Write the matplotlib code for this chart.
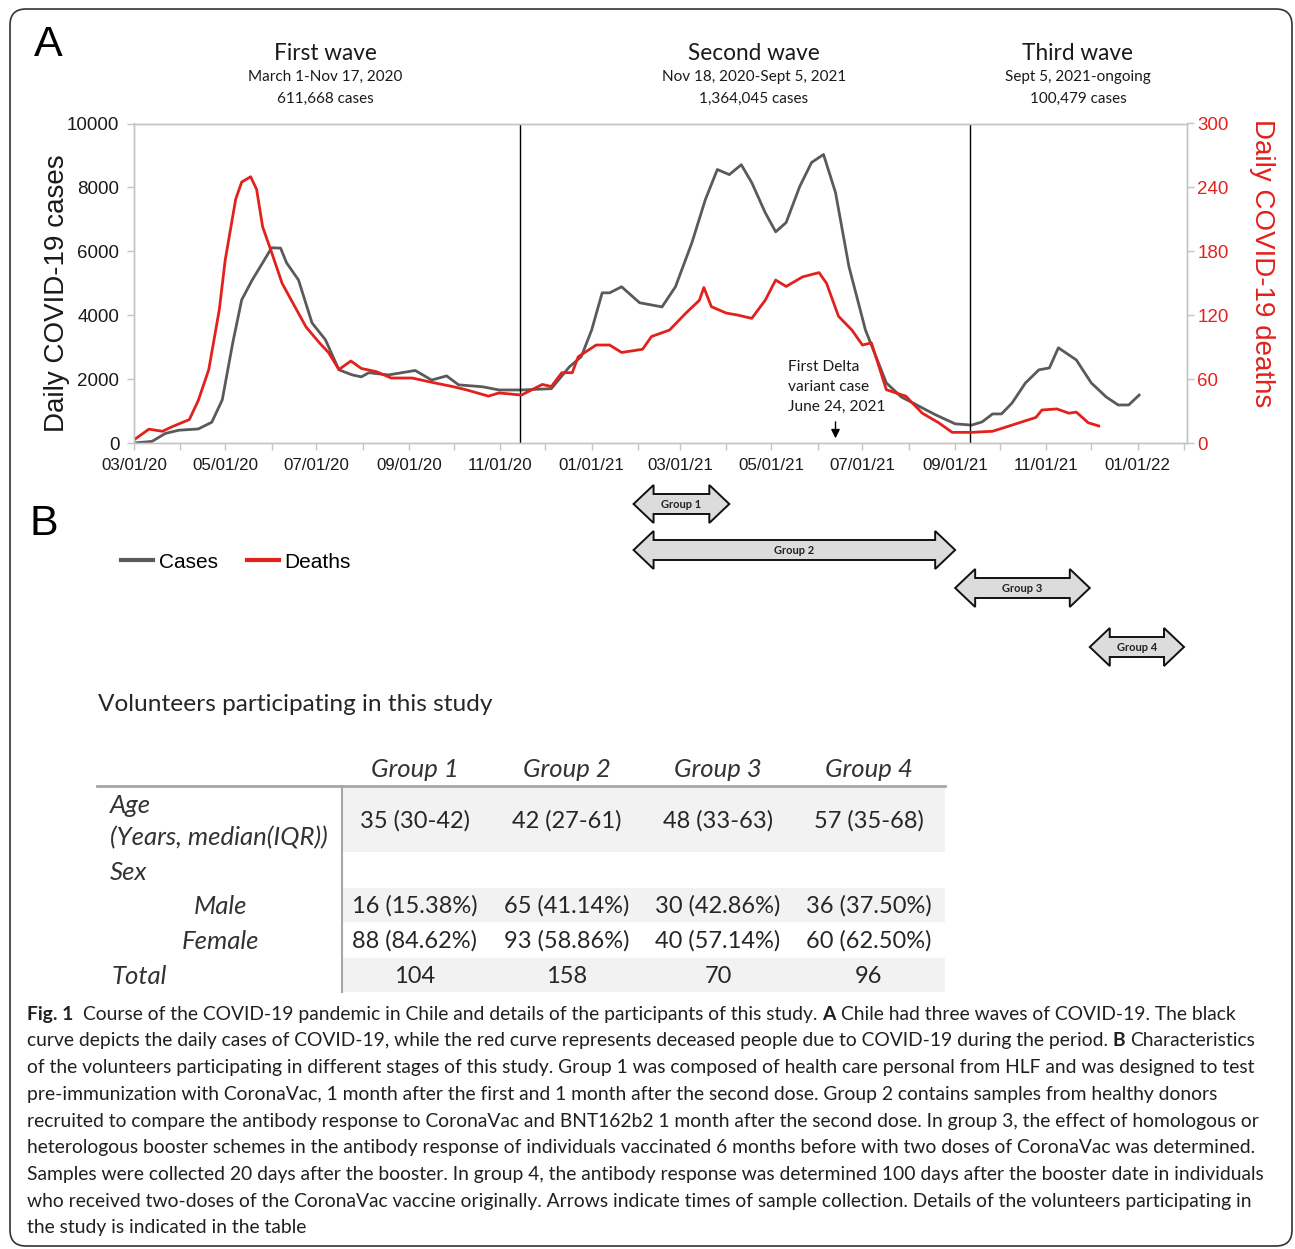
import matplotlib
matplotlib.use('Agg')
import matplotlib.pyplot as plt
import matplotlib.dates as mdates
from matplotlib.patches import Polygon, FancyBboxPatch, Rectangle
from matplotlib.lines import Line2D
import pandas as pd

W, H = 1295, 1249

# ---- data ----
START = pd.Timestamp('2020-03-01')

# days since 2020-03-01 / daily cases (7-day average, approx)
case_days = [0, 12, 21, 30, 43, 52, 59, 66, 72, 79, 86, 92, 98, 102, 110, 119, 128,
             137, 146, 152, 157, 170, 188, 199, 209, 217, 233, 244, 259, 279, 291,
             299, 306, 313, 318, 326, 338, 353, 362, 373, 382, 390, 398, 406, 413,
             422, 429, 436, 445, 453, 461, 469, 478, 489, 503, 513, 536, 549, 560,
             567, 574, 580, 587, 596, 605, 612, 618, 630, 640, 650, 658, 665, 672]
case_values = [0, 50, 300, 400, 440, 650, 1350, 3130, 4480, 5100, 5640, 6110, 6100,
               5640, 5100, 3760, 3230, 2290, 2130, 2070, 2200, 2130, 2270, 1970, 2100,
               1820, 1760, 1660, 1660, 1700, 2380, 2700, 3540, 4700, 4700, 4890, 4390,
               4260, 4890, 6270, 7620, 8560, 8400, 8710, 8150, 7210, 6610, 6900, 8020,
               8780, 9030, 7840, 5520, 3540, 1880, 1440, 880, 600, 560, 660, 910, 910,
               1250, 1880, 2290, 2350, 2980, 2600, 1880, 1440, 1190, 1190, 1500]

death_days = [0, 10, 19, 25, 37, 43, 50, 57, 61, 68, 72, 78, 82, 86, 92, 99, 106, 115,
              124, 130, 137, 145, 152, 162, 172, 186, 199, 213, 222, 237, 244, 259,
              273, 279, 286, 293, 297, 309, 318, 326, 340, 346, 358, 369, 378, 381,
              386, 396, 404, 413, 422, 429, 436, 447, 458, 463, 471, 480, 487, 493,
              503, 516, 527, 538, 547, 560, 574, 583, 594, 603, 607, 617, 625, 630,
              638, 645]
death_values = [3, 13, 11, 15, 22, 40, 69, 125, 172, 229, 245, 250, 238, 203, 179, 150,
                132, 109, 94, 85, 69, 77, 70, 67, 61, 61, 57, 53, 50, 44, 47, 45, 55,
                53, 66, 66, 81, 92, 92, 85, 88, 100, 106, 122, 134, 146, 128, 122, 120,
                117, 134, 153, 147, 156, 160, 150, 119, 106, 92, 94, 50, 44, 28, 19, 10,
                10, 11, 15, 20, 24, 31, 32, 28, 29, 19, 16]

wave_titles = ['First wave', 'Second wave', 'Third wave']
wave_ranges = ['March 1-Nov 17, 2020', 'Nov 18, 2020-Sept 5, 2021', 'Sept 5, 2021-ongoing']
wave_cases = ['611,668 cases', '1,364,045 cases', '100,479 cases']
wave_breaks = ['2020-11-14', '2021-09-11']
delta_date = '2021-06-13'
delta_text = ['First Delta', 'variant case', 'June 24, 2021']

group_names = ['Group 1', 'Group 2', 'Group 3', 'Group 4']
group_start = ['2021-01-29', '2021-01-29', '2021-09-01', '2021-11-30']
group_end = ['2021-04-03', '2021-09-01', '2021-11-30', '2022-02-01']

age_median = ['35 (30-42)', '42 (27-61)', '48 (33-63)', '57 (35-68)']
male_n = ['16 (15.38%)', '65 (41.14%)', '30 (42.86%)', '36 (37.50%)']
female_n = ['88 (84.62%)', '93 (58.86%)', '40 (57.14%)', '60 (62.50%)']
total_n = ['104', '158', '70', '96']

caption_lines = [
    [("Fig. 1", True), ("  Course of the COVID-19 pandemic in Chile and details of the participants of this study. ", False),
     ("A", True), (" Chile had three waves of COVID-19. The black", False)],
    [("curve depicts the daily cases of COVID-19, while the red curve represents deceased people due to COVID-19 during the period. ", False),
     ("B", True), (" Characteristics", False)],
    [("of the volunteers participating in different stages of this study. Group 1 was composed of health care personal from HLF and was designed to test", False)],
    [("pre-immunization with CoronaVac, 1 month after the first and 1 month after the second dose. Group 2 contains samples from healthy donors", False)],
    [("recruited to compare the antibody response to CoronaVac and BNT162b2 1 month after the second dose. In group 3, the effect of homologous or", False)],
    [("heterologous booster schemes in the antibody response of individuals vaccinated 6 months before with two doses of CoronaVac was determined.", False)],
    [("Samples were collected 20 days after the booster. In group 4, the antibody response was determined 100 days after the booster date in individuals", False)],
    [("who received two-doses of the CoronaVac vaccine originally. Arrows indicate times of sample collection. Details of the volunteers participating in", False)],
    [("the study is indicated in the table", False)],
]

GRAY = '#5a5a5a'
RED = '#e3211c'
SPINE = '#c4c4c4'
CAL = 'Lato'

plt.rcParams['font.family'] = 'Liberation Sans'

fig = plt.figure(figsize=(W / 100, H / 100), dpi=100)
renderer = fig.canvas.get_renderer()


def frac(x0, y0, x1, y1):
    return [x0 / W, 1 - y1 / H, (x1 - x0) / W, (y1 - y0) / H]


# background overlay in pixel coordinates
bg = fig.add_axes([0, 0, 1, 1], zorder=0)
bg.set_xlim(0, W)
bg.set_ylim(H, 0)
bg.axis('off')

bg.add_patch(FancyBboxPatch((10, 9), 1282, 1237, boxstyle='round,pad=0,rounding_size=16',
                            fc='none', ec='#333333', lw=1.2))

# ---- panel A ----
ax = fig.add_axes(frac(134, 123.5, 1187, 443), zorder=2)
ax.patch.set_alpha(0)
case_dates = START + pd.to_timedelta(case_days, unit='D')
death_dates = START + pd.to_timedelta(death_days, unit='D')

ax.plot(case_dates, case_values, color=GRAY, lw=2.0, solid_joinstyle='round')
for d in wave_breaks:
    ax.axvline(pd.Timestamp(d), color='black', lw=1.0)
ax.set_ylim(0, 10000)
ax.set_xlim(START, pd.Timestamp('2022-02-03'))
ax.set_yticks(range(0, 10001, 2000))
ax.xaxis.set_major_locator(mdates.MonthLocator(bymonth=[1, 3, 5, 7, 9, 11]))
ax.xaxis.set_minor_locator(mdates.MonthLocator())
ax.xaxis.set_major_formatter(mdates.DateFormatter('%m/%d/%y'))

ax2 = ax.twinx()
ax2.plot(death_dates, death_values, color=RED, lw=2.0, solid_joinstyle='round')
ax2.set_ylim(0, 300)
ax2.set_yticks(range(0, 301, 60))

for a in (ax, ax2):
    for sp in a.spines.values():
        sp.set_color(SPINE)
        sp.set_linewidth(1.0)
ax.tick_params(axis='y', which='both', direction='out', length=5, width=1, color=SPINE,
               labelsize=13.5, labelcolor='#1a1a1a', pad=5.5)
ax.tick_params(axis='x', which='both', direction='out', length=5, width=1, color=SPINE,
               labelsize=12.2, labelcolor='#1a1a1a', pad=5.5)
ax2.tick_params(axis='y', direction='out', length=5, width=1, color=SPINE,
                labelsize=13.5, labelcolor=RED, pad=2.5)

ax.set_ylabel('Daily COVID-19 cases', fontsize=20, color='#1a1a1a')
ax.yaxis.label.set_va('center')
ax.yaxis.set_label_coords(-0.0735, 0.469)
ax2.set_ylabel('Daily COVID-19 deaths', fontsize=20, color=RED, rotation=270)
ax2.yaxis.label.set_va('center')
ax2.yaxis.set_label_coords(1.0715, 0.564)

# first Delta case annotation
ax.annotate('', xy=(pd.Timestamp(delta_date), 60), xytext=(pd.Timestamp(delta_date), 750),
            arrowprops=dict(arrowstyle='-|>', color='black', lw=1.0, mutation_scale=13))
for i, line in enumerate(delta_text):
    bg.text(788, 367 + 20 * i, line, family=CAL, fontsize=11.2, color='#1a1a1a',
            ha='left', va='center')

# wave headers
for cx, t, r, c in zip([325, 754, 1078], wave_titles, wave_ranges, wave_cases):
    bg.text(cx, 53, t, family=CAL, fontsize=16.3, color='#1a1a1a', ha='center', va='center')
    bg.text(cx, 77, r, family=CAL, fontsize=11, color='#1a1a1a', ha='center', va='center')
    bg.text(cx, 99, c, family=CAL, fontsize=11, color='#1a1a1a', ha='center', va='center')

bg.text(48, 45, 'A', fontsize=31, color='black', ha='center', va='center')
bg.text(44, 524, 'B', fontsize=31, color='black', ha='center', va='center')

# legend
handles = [Line2D([], [], color=GRAY, lw=3), Line2D([], [], color=RED, lw=3)]
fig.legend(handles, ['Cases', 'Deaths'], loc='center left', bbox_to_anchor=(121 / W, 1 - 562 / H),
           ncol=2, frameon=False, fontsize=15, handlelength=1.55, handletextpad=0.25,
           columnspacing=1.4, borderpad=0, borderaxespad=0)

# ---- group arrows (x from the date axis) ----
HL, HH, BH = 20, 19, 10
for name, s, e, yc in zip(group_names, group_start, group_end, [504, 550, 588, 647]):
    x0 = ax.transData.transform((mdates.date2num(pd.Timestamp(s)), 0))[0]
    x1 = ax.transData.transform((mdates.date2num(pd.Timestamp(e)), 0))[0]
    pts = [(x0, yc), (x0 + HL, yc - HH), (x0 + HL, yc - BH), (x1 - HL, yc - BH),
           (x1 - HL, yc - HH), (x1, yc), (x1 - HL, yc + HH), (x1 - HL, yc + BH),
           (x0 + HL, yc + BH), (x0 + HL, yc + HH)]
    bg.add_patch(Polygon(pts, closed=True, fc='#dcdcdc', ec='#111111', lw=1.4))
    bg.text((x0 + x1) / 2, yc, name, family=CAL, fontweight='bold', fontsize=8,
            color='#222222', ha='center', va='center')

# ---- table ----
bg.text(98, 704, 'Volunteers participating in this study', family=CAL, fontsize=17.6,
        color='#262626', ha='left', va='center')
col_x = [415, 567, 718, 869]
for y0, hgt in [(788, 64), (888, 34), (958, 34)]:
    bg.add_patch(Rectangle((343, y0), 602, hgt, fc='#f2f2f2', ec='none'))
bg.plot([97, 945], [786, 786], color='#a6a6a6', lw=2)
bg.plot([342, 342], [786, 992], color='#a6a6a6', lw=1.5)

TFS = 17
IFS = 18.5
for cx, g in zip(col_x, group_names):
    bg.text(cx, 769, g, family=CAL, style='italic', fontsize=IFS, color='#333333',
            ha='center', va='center')
for vals, y in [(age_median, 821), (male_n, 906), (female_n, 941), (total_n, 976)]:
    for cx, v in zip(col_x, vals):
        bg.text(cx, y, v, family=CAL, fontsize=TFS, color='#262626', ha='center', va='center')

row_labels = [('Age', 110, 805, 'left'), ('(Years, median(IQR))', 110, 838, 'left'),
              ('Sex', 110, 872, 'left'), ('Male', 220, 906, 'center'),
              ('Female', 220, 941, 'center'), ('Total', 112, 976, 'left')]
for txt, x, y, ha in row_labels:
    bg.text(x, y, txt, family=CAL, style='italic', fontsize=IFS, color='#333333',
            ha=ha, va='center')


# ---- caption with bold runs ----
def text_width(s, **kw):
    t = bg.text(0, 0, s, **kw)
    w = t.get_window_extent(renderer=renderer).width
    t.remove()
    return w


cap_kw = dict(family=CAL, color='#231f20')
base = 13
w6 = text_width(caption_lines[5][0][0], fontsize=base, **cap_kw)
cap_fs = base * 1227 / w6
space_w = (text_width('a a', fontsize=cap_fs, **cap_kw) -
           text_width('aa', fontsize=cap_fs, **cap_kw))

for i, runs in enumerate(caption_lines):
    x = 27
    y = 1014 + 26.75 * i
    for txt, bold in runs:
        core = txt.strip(' ')
        lead = len(txt) - len(txt.lstrip(' '))
        trail = len(txt) - len(txt.rstrip(' '))
        x += lead * space_w
        t = bg.text(x, y, core, fontsize=cap_fs, fontweight='bold' if bold else 'normal',
                    ha='left', va='center', **cap_kw)
        x += t.get_window_extent(renderer=renderer).width
        x += trail * space_w

fig.savefig('out.png', dpi=100)
